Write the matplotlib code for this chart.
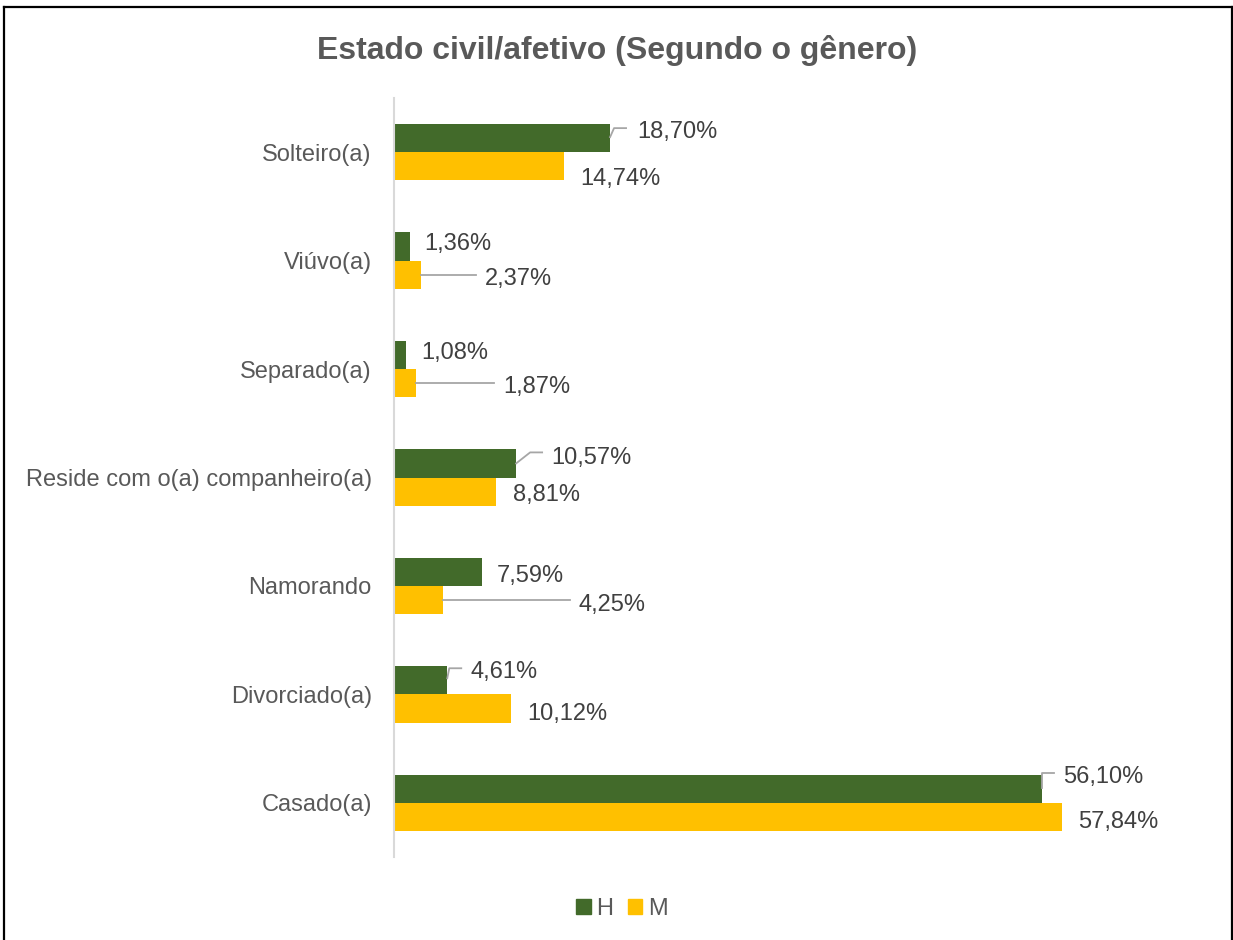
import matplotlib.pyplot as plt
from matplotlib.lines import Line2D
from matplotlib.patches import Patch
from matplotlib.transforms import IdentityTransform
import numpy as np

plt.rcParams['font.family'] = ['Liberation Sans', 'DejaVu Sans']

categorias = ['Solteiro(a)', 'Viúvo(a)', 'Separado(a)', 'Reside com o(a) companheiro(a)',
              'Namorando', 'Divorciado(a)', 'Casado(a)']
homens = [18.70, 1.36, 1.08, 10.57, 7.59, 4.61, 56.10]
mulheres = [14.74, 2.37, 1.87, 8.81, 4.25, 10.12, 57.84]

# label position in pixels from the bar end (dx right, dy down)
pos_h = [(27, -6), (15, -3), (15, -2), (35, -5), (15, 4), (23, -8), (21, -12)]
pos_m = [(16, 13), (63, 4), (88, 4), (17, 3), (135, 5), (16, 6), (16, 5)]
# leader lines, pixel points from the bar end (None = no line)
guia_h = [[(0, -1), (4, -10), (16, -10)], None, None,
          [(0, 0), (14, -11), (26, -11)], None,
          [(0, -2), (2, -12), (14, -12)],
          [(0, -1), (0, -16), (12, -16)]]
guia_m = [None, [(0, 0), (55, 0)], [(0, 0), (78, 0)], None, [(0, 0), (127, 0)], None, None]

cor_h = '#426A2A'
cor_m = '#FFC000'

fig = plt.figure(figsize=(12.33, 9.4), dpi=100)
ax = fig.add_axes([394 / 1233, 1 - 857 / 940, (1130 - 394) / 1233, (857 - 98) / 940])

y = np.arange(len(categorias))
h = 0.26
ax.barh(y - h / 2, homens, height=h, color=cor_h, label='H')
ax.barh(y + h / 2, mulheres, height=h, color=cor_m, label='M')

ax.set_xlim(0, 63.7)
ax.set_ylim(len(categorias) - 0.5, -0.5)
ax.set_yticks(y)
ax.set_yticklabels(categorias, fontsize=17, color='#595959')
ax.tick_params(axis='y', length=0, pad=16)
ax.set_xticks([])
for s in ['top', 'right', 'bottom']:
    ax.spines[s].set_visible(False)
ax.spines['left'].set_color('#D9D9D9')
ax.spines['left'].set_linewidth(1.5)


def rotulo(v, yc, pos, guia):
    txt = f'{v:.2f}%'.replace('.', ',')
    ax.annotate(txt, xy=(v, yc), xytext=(pos[0], -pos[1]), textcoords='offset pixels',
                ha='left', va='center', fontsize=17, color='#404040')
    if guia:
        bx, by = ax.transData.transform((v, yc))
        xs = [bx + p[0] for p in guia]
        ys = [by - p[1] for p in guia]
        ax.add_artist(Line2D(xs, ys, transform=IdentityTransform(), color='#A6A6A6', lw=1.3))


for i in range(len(categorias)):
    rotulo(homens[i], y[i] - h / 2, pos_h[i], guia_h[i])
    rotulo(mulheres[i], y[i] + h / 2, pos_m[i], guia_m[i])

fig.text(617 / 1233, 1 - 50 / 940, 'Estado civil/afetivo (Segundo o gênero)', ha='center', va='center',
         fontsize=23, fontweight='bold', color='#595959')

handles = [Patch(color=cor_h), Patch(color=cor_m)]
fig.legend(handles, ['H', 'M'], loc='center', bbox_to_anchor=(622 / 1233, 1 - 909 / 940), ncol=2,
           frameon=False, fontsize=17, labelcolor='#595959', handlelength=0.6, handleheight=0.6,
           handletextpad=0.25, columnspacing=0.6)

# outer frame
for xs, ys in [([4, 4], [0, 933]), ([4, 1232], [933, 933]), ([1232, 1232], [933, 0])]:
    fig.add_artist(Line2D([v / 1233 for v in xs], [v / 940 for v in ys], color='black', lw=1.6))

fig.savefig('out.png', dpi=100)
